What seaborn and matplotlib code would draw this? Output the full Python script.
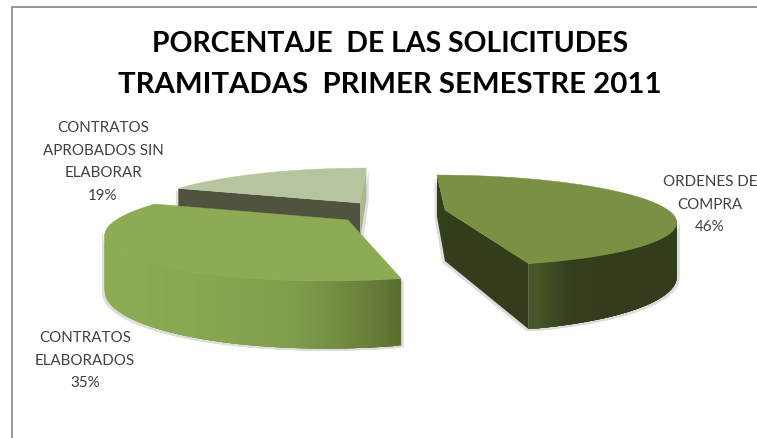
import numpy as np
import matplotlib
matplotlib.use("Agg")
import matplotlib.pyplot as plt
from matplotlib.patches import Polygon
import seaborn as sns

# Chart data
title_lines = ["PORCENTAJE  DE LAS SOLICITUDES", "TRAMITADAS  PRIMER SEMESTRE 2011"]
categories = [["ORDENES DE", "COMPRA"], ["CONTRATOS", "ELABORADOS"], ["CONTRATOS", "APROBADOS SIN", "ELABORAR"]]
percentages = [46, 35, 19]

# Exploded 3D pie geometry: shared pie centre, per-slice offset and shape
PIE_CENTRE = (385, 212)
TILT = 0.23
slice_style = [
    dict(offset=(60, -2), rx=223, ry=43, shear=0.23, depth=51, top="#7A9043",
         side=("#4C5C2C", "#343E1C", "#333C1B"), span=85, cuts={0: "#343D1C", 1: "#333C1B"}),
    dict(offset=(-37, 8), rx=232, ry=47, shear=-0.36, depth=52, top="#8CAB53",
         side=("#8BAC52", "#7F9C4A", "#5B6F30"), span=None, cuts={}),
    dict(offset=(-25, -9), rx=215, ry=43, shear=-0.18, depth=38, top="#B6C59D",
         side=None, span=None, cuts={0: "#4F5340", 1: "#A9B78E"}),
]
label_anchor = [(710, 186), (85, 342), (103, 132)]
LABEL_PITCH = 22.7

sns.set_theme(style="white")
plt.rcParams["font.family"] = ["Lato", "DejaVu Sans"]

fig = plt.figure(figsize=(7.57, 4.38), dpi=100, facecolor="white")
ax = fig.add_axes([0, 0, 1, 1])
ax.set_xlim(0, 757)
ax.set_ylim(438, 0)
ax.axis("off")
renderer = fig.canvas.get_renderer()


def rim(theta, st):
    """Project pie angles (clockwise from the back, degrees) to the canvas."""
    t = np.radians(theta)
    u, v = np.sin(t), np.cos(t)
    w = 1 + TILT * v
    dy = -st["ry"] * v / w
    dx = st["rx"] * u / w + st["shear"] * dy
    return PIE_CENTRE[0] + st["offset"][0] + dx, PIE_CENTRE[1] + st["offset"][1] + dy, st["depth"] / w


def fitted_size(text, width_px, weight):
    """Font size at which a string spans the given width."""
    probe = ax.text(0, 0, text, fontsize=10, fontweight=weight)
    width = probe.get_window_extent(renderer).width
    probe.remove()
    return 10 * width_px / width


# Slice angle ranges derived from the percentages
edges = np.concatenate([[0], np.cumsum(percentages)]) * 3.6

for order, i in enumerate([2, 1, 0]):
    st = slice_style[i]
    z = 2 + order
    a0, a1 = edges[i], edges[i + 1]
    apex = (PIE_CENTRE[0] + st["offset"][0], PIE_CENTRE[1] + st["offset"][1])
    faces = []

    # Radial cut faces
    for key, col in st["cuts"].items():
        x, y, d = rim(np.array([a0 if key == 0 else a1]), st)
        face = [(apex[0], apex[1]), (x[0], y[0]), (x[0], y[0] + d[0]), (apex[0], apex[1] + st["depth"])]
        faces.append((face, col))

    # Outer curved wall, shaded across its width; neighbouring strips overlap to hide seams
    if st["side"] is not None:
        thetas = np.linspace(a0, a1, 300)
        thetas = thetas[np.cos(np.radians(thetas)) < -TILT + 0.02]
        x, y, d = rim(thetas, st)
        ramp = sns.blend_palette(list(st["side"]), n_colors=64)
        for j in range(len(thetas) - 4):
            k = j + 4
            quad = [(x[j], y[j]), (x[k], y[k]), (x[k], y[k] + d[k]), (x[j], y[j] + d[j])]
            if st["span"]:
                frac = min(1.0, (x[j] - x.min()) / st["span"])
            else:
                frac = ((x[j] - x.min()) / (x.max() - x.min())) ** 1.6
            faces.append((quad, ramp[int(frac * 63)]))

    # Faint halo behind the extruded faces
    for shift in ([-2.5, 2], [2.5, 2]):
        for face, _ in faces:
            ax.add_patch(Polygon(np.array(face) + shift, closed=True, fc="#DDDDDD", ec="none", zorder=z - 0.2))
    for face, col in faces:
        ax.add_patch(Polygon(face, closed=True, fc=col, ec="none", zorder=z))

    # Top surface
    x, y, _ = rim(np.linspace(a0, a1, 200), st)
    top = np.column_stack([np.r_[apex[0], x], np.r_[apex[1], y]])
    ax.add_patch(Polygon(top, closed=True, fc=st["top"], ec=st["top"], lw=0.3, zorder=z + 0.5))

# Chart frame: only the top and left sides fall inside the canvas
ax.plot([757, 11.5, 11.5], [7, 7, 438], color="#8F8F8F", lw=1.3, solid_joinstyle="miter", zorder=10)

# Title
for line, base, width in zip(title_lines, [52, 93], [477, 543]):
    ax.text(390, base, line, ha="center", va="baseline", fontsize=fitted_size(line, width, "bold"),
            fontweight="bold", color="black", zorder=11)

# Data labels
label_size = fitted_size("APROBADOS SIN", 120, "normal")
for (lx, ly), cat, pct in zip(label_anchor, categories, percentages):
    for n, row in enumerate(cat + [f"{pct}%"]):
        ax.text(lx, ly + n * LABEL_PITCH, row, ha="center", va="baseline", fontsize=label_size,
                color="#404040", zorder=11)

fig.savefig("out.png", dpi=100, facecolor="white")
